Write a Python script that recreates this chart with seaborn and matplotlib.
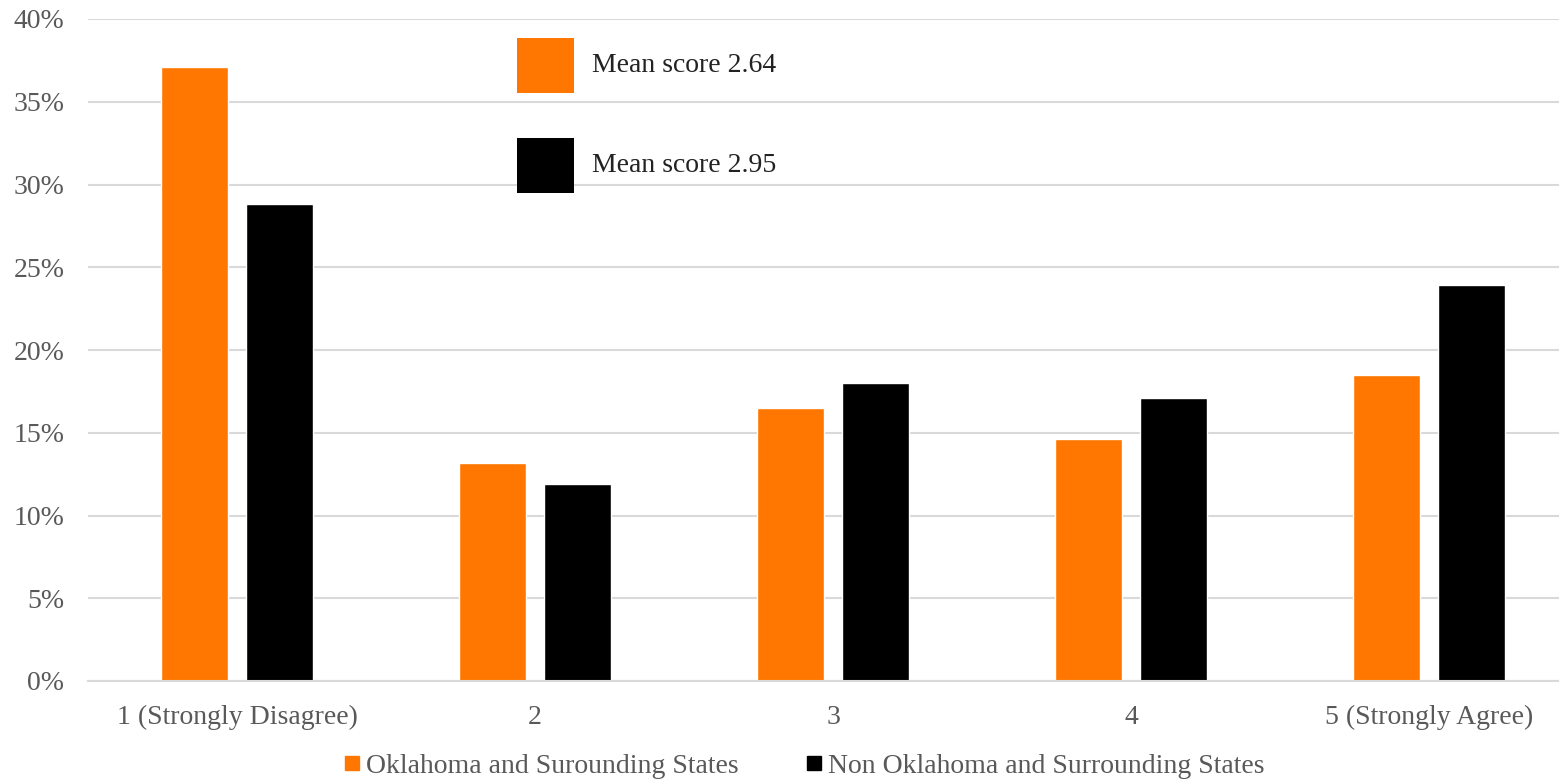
import matplotlib
matplotlib.use("Agg")
import matplotlib.pyplot as plt
import seaborn as sns
import pandas as pd
from matplotlib.patches import Rectangle
from matplotlib.lines import Line2D

categories = ["1 (Strongly Disagree)", "2", "3", "4", "5 (Strongly Agree)"]
series_names = ["Oklahoma and Surounding States", "Non Oklahoma and Surrounding States"]
ok_values = [37.1, 13.2, 16.5, 14.6, 18.5]
non_ok_values = [28.8, 11.9, 18.0, 17.1, 23.9]
mean_labels = ["Mean score 2.64", "Mean score 2.95"]
y_ticks = [0, 5, 10, 15, 20, 25, 30, 35, 40]

colors = ["#FF7700", "#000000"]
text_color = "#595959"

df = pd.DataFrame({
    "category": categories * 2,
    "value": ok_values + non_ok_values,
    "series": [series_names[0]] * 5 + [series_names[1]] * 5,
})

sns.set_theme(style="white")
plt.rcParams["font.family"] = ["Liberation Serif", "DejaVu Serif"]

fig = plt.figure(figsize=(15.59, 7.81), dpi=100)
ax = fig.add_axes([88 / 1559, 100 / 781, 1471 / 1559, 662 / 781])

sns.barplot(data=df, x="category", y="value", hue="series", order=categories,
            hue_order=series_names, palette=colors, width=0.57, gap=0.21,
            ax=ax, legend=False, saturation=1)

ax.set_xlim(-0.5, -0.5 + 1471 / 298)
ax.set_ylim(0, 40)
ax.set_yticks(y_ticks)
ax.set_yticklabels([f"{t}%" for t in y_ticks])
ax.yaxis.grid(True, color="#d9d9d9", linewidth=1.5)
ax.set_axisbelow(True)
for s in ["top", "right", "left"]:
    ax.spines[s].set_visible(False)
ax.spines["bottom"].set_color("#d9d9d9")
ax.spines["bottom"].set_linewidth(1.5)
ax.set_xlabel("")
ax.set_ylabel("")
ax.tick_params(axis="both", length=0, labelsize=20, labelcolor=text_color)
ax.tick_params(axis="y", pad=17)
ax.tick_params(axis="x", pad=17)

# Mean score boxes
for i, (lab, col) in enumerate(zip(mean_labels, colors)):
    y0 = (781 - 93 - 100 * i) / 781
    fig.patches.append(Rectangle((517 / 1559, y0), 57 / 1559, 55 / 781,
                                 transform=fig.transFigure, facecolor=col,
                                 edgecolor="none", figure=fig))
    fig.text(592 / 1559, y0 + 27.5 / 781, lab, fontsize=20, color="#222222",
             va="center", ha="left")

handles = [Line2D([0], [0], marker="s", linestyle="none", markersize=9.5,
                  markerfacecolor=c, markeredgecolor=c) for c in colors]
fig.legend(handles, series_names, loc="center", bbox_to_anchor=(804 / 1559, 15 / 781),
           ncol=2, frameon=False, fontsize=20, handletextpad=0.2,
           handlelength=0.6, columnspacing=2.4, labelcolor=text_color)

fig.savefig("out.png", dpi=100)
